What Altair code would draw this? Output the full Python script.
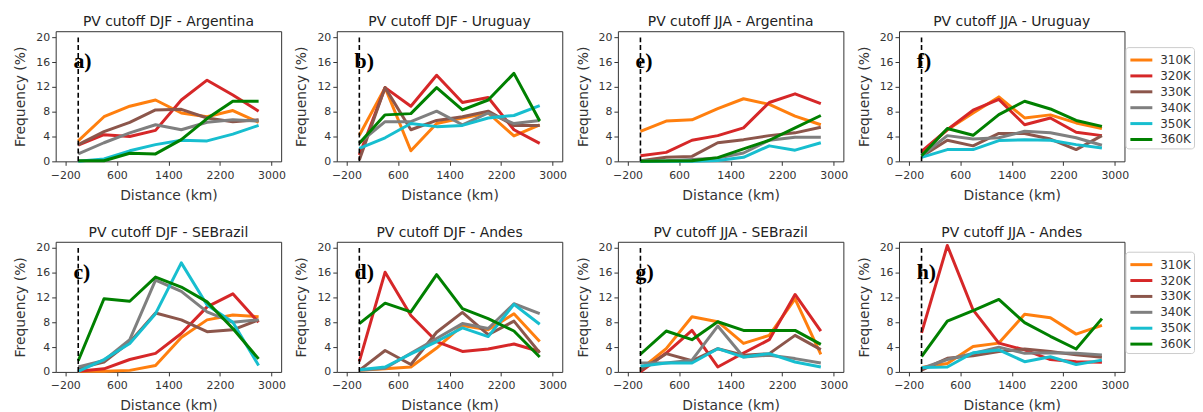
import altair as alt
import pandas as pd

DIST = [0, 400, 800, 1200, 1600, 2000, 2400, 2800]
LEVELS = ["310K", "320K", "330K", "340K", "350K", "360K"]
COLORS = ["#ff7f0e", "#d62728", "#8c564b", "#7f7f7f", "#17becf", "#008000"]
X_TICKS = [-200, 600, 1400, 2200, 3000]
Y_TICKS = [0, 4, 8, 12, 16, 20]
CUTOFF_X = [0]
CUTOFF_Y0 = [0]
CUTOFF_Y1 = [20]
LETTER_X = -75
LETTER_Y = 15

# a) DJF Argentina
DJF_ARG = {
    "310K": [3.3, 7.2, 8.9, 9.9, 7.8, 7.2, 8.2, 6.3],
    "320K": [2.6, 4.3, 4.0, 5.0, 9.9, 13.1, 10.7, 8.1],
    "330K": [2.7, 4.8, 6.3, 8.3, 8.4, 7.0, 6.4, 6.7],
    "340K": [1.2, 3.0, 4.6, 5.9, 5.1, 6.3, 6.7, 6.5],
    "350K": [0.0, 0.4, 1.7, 2.7, 3.4, 3.3, 4.4, 5.8],
    "360K": [0.1, 0.1, 1.3, 1.2, 3.5, 6.9, 9.7, 9.7],
}
# b) DJF Uruguay
DJF_URU = {
    "310K": [4.2, 11.9, 1.7, 6.1, 7.0, 7.8, 4.1, 5.9],
    "320K": [1.0, 11.9, 8.9, 13.9, 9.5, 10.3, 5.1, 2.9],
    "330K": [0.2, 11.9, 5.1, 6.6, 7.2, 8.1, 5.8, 5.8],
    "340K": [3.0, 6.4, 6.4, 8.1, 5.9, 7.8, 6.1, 6.6],
    "350K": [2.1, 3.8, 6.1, 5.6, 5.8, 7.0, 7.4, 9.0],
    "360K": [2.9, 7.5, 7.7, 11.9, 8.3, 9.9, 14.2, 6.5],
}
# e) JJA Argentina
JJA_ARG = {
    "310K": [4.85, 6.5, 6.7, 8.5, 10.1, 9.2, 7.3, 5.9],
    "320K": [0.9, 1.45, 3.4, 4.15, 5.4, 9.5, 10.9, 9.3],
    "330K": [0.1, 0.65, 0.8, 3.0, 3.5, 4.15, 4.6, 5.5],
    "340K": [0.0, 0.1, 0.3, 0.55, 1.35, 3.4, 3.9, 3.9],
    "350K": [0.0, 0.0, 0.0, 0.15, 0.65, 2.5, 1.8, 3.0],
    "360K": [0.0, 0.05, 0.1, 0.6, 2.0, 3.4, 5.4, 7.4],
}
# f) JJA Uruguay
JJA_URU = {
    "310K": [1.35, 5.1, 7.8, 10.4, 7.0, 7.5, 6.2, 5.3],
    "320K": [1.6, 5.1, 8.25, 10.0, 5.9, 7.0, 4.7, 4.15],
    "330K": [0.8, 3.4, 2.5, 4.5, 4.5, 3.6, 1.9, 4.15],
    "340K": [0.9, 4.15, 3.6, 3.8, 4.85, 4.6, 3.8, 2.6],
    "350K": [0.65, 1.9, 1.9, 3.35, 3.5, 3.4, 2.7, 2.15],
    "360K": [0.9, 5.3, 4.2, 7.55, 9.7, 8.45, 6.6, 5.65],
}
# c) DJF SEBrazil
DJF_SEB = {
    "310K": [0.1, 0.1, 0.25, 1.05, 5.55, 8.4, 9.2, 8.9],
    "320K": [0.1, 0.5, 2.0, 3.0, 6.2, 10.5, 12.6, 8.0],
    "330K": [0.6, 1.6, 4.8, 9.5, 8.4, 6.5, 6.8, 8.4],
    "340K": [0.8, 1.85, 5.2, 14.8, 13.0, 9.7, 8.0, 8.4],
    "350K": [0.1, 2.0, 4.6, 9.4, 17.6, 10.8, 8.0, 1.05],
    "360K": [1.8, 11.8, 11.4, 15.3, 13.7, 11.3, 7.0, 2.1],
}
# d) DJF Andes
DJF_AND = {
    "310K": [0.25, 0.5, 0.8, 3.85, 7.5, 6.8, 9.4, 4.9],
    "320K": [1.7, 16.1, 9.1, 4.9, 3.3, 3.7, 4.5, 3.3],
    "330K": [0.25, 3.45, 1.2, 6.4, 9.6, 6.0, 8.2, 3.1],
    "340K": [0.25, 0.6, 3.0, 5.4, 7.8, 7.0, 11.0, 9.4],
    "350K": [0.35, 0.8, 2.9, 4.9, 7.1, 5.7, 10.9, 7.7],
    "360K": [7.8, 11.1, 9.7, 15.7, 10.2, 8.6, 6.6, 2.4],
}
# g) JJA SEBrazil
JJA_SEB = {
    "310K": [0.4, 3.75, 8.9, 8.1, 4.6, 5.9, 11.8, 2.85],
    "320K": [0.0, 3.05, 6.7, 0.8, 3.05, 5.2, 12.5, 6.6],
    "330K": [0.25, 2.95, 1.8, 3.75, 2.7, 2.95, 5.9, 3.6],
    "340K": [1.45, 1.45, 1.9, 7.4, 2.4, 2.7, 2.15, 1.45],
    "350K": [0.9, 1.45, 1.45, 3.75, 2.4, 2.95, 1.6, 0.8],
    "360K": [2.85, 6.6, 5.2, 8.1, 6.7, 6.7, 6.7, 4.45],
}
# h) JJA Andes
JJA_AND = {
    "310K": [0.7, 1.35, 4.1, 4.65, 9.3, 8.75, 6.1, 7.5],
    "320K": [6.3, 20.4, 10.0, 4.65, 3.55, 2.0, 1.65, 1.55],
    "330K": [0.3, 2.2, 2.6, 3.3, 3.7, 3.3, 2.75, 2.35],
    "340K": [0.55, 2.0, 3.0, 4.0, 3.0, 3.1, 3.0, 2.75],
    "350K": [0.7, 0.8, 3.1, 3.55, 1.65, 2.45, 1.2, 1.9],
    "360K": [2.45, 8.2, 9.9, 11.7, 7.95, 5.75, 3.7, 8.6],
}

ROW1 = [
    (DJF_ARG, "PV cutoff DJF - Argentina", "a)"),
    (DJF_URU, "PV cutoff DJF - Uruguay", "b)"),
    (JJA_ARG, "PV cutoff JJA - Argentina", "e)"),
    (JJA_URU, "PV cutoff JJA - Uruguay", "f)"),
]
ROW2 = [
    (DJF_SEB, "PV cutoff DJF - SEBrazil", "c)"),
    (DJF_AND, "PV cutoff DJF - Andes", "d)"),
    (JJA_SEB, "PV cutoff JJA - SEBrazil", "g)"),
    (JJA_AND, "PV cutoff JJA - Andes", "h)"),
]

X_ENC = alt.X(
    "dist:Q",
    scale=alt.Scale(domain=[-350, 3150], nice=False, zero=False),
    axis=alt.Axis(values=X_TICKS, format="d", title="Distance (km)",
                  labelOverlap=False, labelPadding=4, titlePadding=8),
)
Y_ENC = alt.Y(
    "freq:Q",
    scale=alt.Scale(domain=[0, 21], nice=False, zero=False),
    axis=alt.Axis(values=Y_TICKS, format="d", title="Frequency (%)",
                  labelOverlap=False, labelPadding=2, titlePadding=8),
)


def panel(series, title, letter, legend_y):
    rows = []
    for lev in LEVELS:
        for d, v in zip(DIST, series[lev]):
            rows.append({"dist": d, "freq": v, "level": lev})
    df = pd.DataFrame(rows)
    color = alt.Color("level:N", scale=alt.Scale(domain=LEVELS, range=COLORS),
                      legend=alt.Legend(title=None, orient="none",
                                        legendX=1077, legendY=legend_y))
    layers = []
    for lev in LEVELS:
        layers.append(
            alt.Chart(df).transform_filter(alt.datum.level == lev)
            .mark_line(strokeWidth=3, strokeJoin="round")
            .encode(x=X_ENC, y=Y_ENC, color=color)
        )
    rule_df = pd.DataFrame({"dist": CUTOFF_X, "freq": CUTOFF_Y0, "freq2": CUTOFF_Y1})
    rule = alt.Chart(rule_df).mark_rule(
        color="black", strokeWidth=1.6, strokeDash=[5, 3]
    ).encode(x=X_ENC, y=Y_ENC, y2="freq2:Q")
    txt_df = pd.DataFrame({"dist": [LETTER_X], "freq": [LETTER_Y], "t": [letter]})
    txt = alt.Chart(txt_df).mark_text(
        font="Liberation Serif", fontWeight="bold", fontSize=22,
        align="left", baseline="alphabetic", color="black"
    ).encode(x=X_ENC, y=Y_ENC, text="t:N")
    return alt.layer(*layers, rule, txt).properties(
        width=227, height=131, title=title
    )


row1 = alt.hconcat(*[panel(*p, 16) for p in ROW1], spacing=56, bounds="flush")
row2 = alt.hconcat(*[panel(*p, 10) for p in ROW2], spacing=56, bounds="flush")

chart = (
    alt.vconcat(row1, row2, spacing=22)
    .resolve_scale(color="independent")
    .properties(padding={"left": 5, "top": 5, "right": 0, "bottom": 0})
    .configure_view(stroke="#333333", strokeWidth=1)
    .configure_axis(
        grid=False, domain=False, tickColor="#333333", tickSize=4, tickWidth=1,
        labelFont="DejaVu Sans", labelFontSize=11, labelColor="#333333",
        labelOverlap=False, titleFont="DejaVu Sans", titleFontSize=14,
        titleFontWeight="normal", titleColor="#333333",
    )
    .configure_title(
        font="DejaVu Sans", fontSize=14, fontWeight="normal", color="#222222",
        offset=2, anchor="middle",
    )
    .configure_legend(
        strokeColor="#cccccc", cornerRadius=3, padding=3,
        symbolType="M-1.3,0H1.3", symbolSize=289, symbolStrokeWidth=3,
        symbolOffset=3, labelOffset=9, rowPadding=0,
        labelFont="DejaVu Sans", labelFontSize=12, labelColor="#333333",
    )
)

chart.save("out.html", embed_options={"renderer": "svg", "actions": False})
